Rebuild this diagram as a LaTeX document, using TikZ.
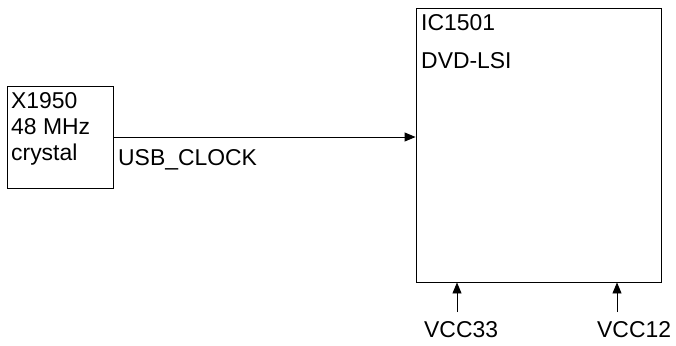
\documentclass[tikz,border=0pt]{standalone}
\usepackage{fontspec}
\setmainfont{Liberation Sans}
\usetikzlibrary{arrows.meta,positioning,calc}

\tikzset{
  blockbox/.style={draw,line width=0.9bp,minimum width=#1,inner sep=0pt},
  tag/.style={inner sep=0pt,font=\fontsize{23}{26}\selectfont,align=left},
  sig/.style={line width=0.9bp,-{Triangle[length=11bp,width=9bp]}}
}

\begin{document}
\begin{tikzpicture}[x=1bp,y=-1bp]
\useasboundingbox (0,0) rectangle (676,345);
% blocks
\node[blockbox=106bp,minimum height=102bp] (xtal) at (60,137) {};
\node[blockbox=245bp,minimum height=274bp] (ic) at (538.5,145) {};
\node[tag,anchor=base west] (xtaltxt) at (11,160) {X1950\\48 MHz\\crystal};
\node[tag,anchor=base west] (icname) at (421,30) {IC1501};
\node[tag,anchor=base west] (icfunc) at (421,68) {DVD-LSI};
% clock line
\draw[sig] (xtal.east) -- (ic.west |- xtal.east);
\node[tag,anchor=base west] (clk) at (118,165) {USB\_CLOCK};
% supplies
\coordinate (pwra) at (457,312);
\coordinate (pwrb) at (617,312);
\draw[sig] (pwra) -- (pwra |- ic.south);
\draw[sig] (pwrb) -- (pwrb |- ic.south);
\node[tag,anchor=base west] (vcca) at (424,337) {VCC33};
\node[tag,anchor=base west] (vccb) at (597,337) {VCC12};
\end{tikzpicture}
\end{document}
